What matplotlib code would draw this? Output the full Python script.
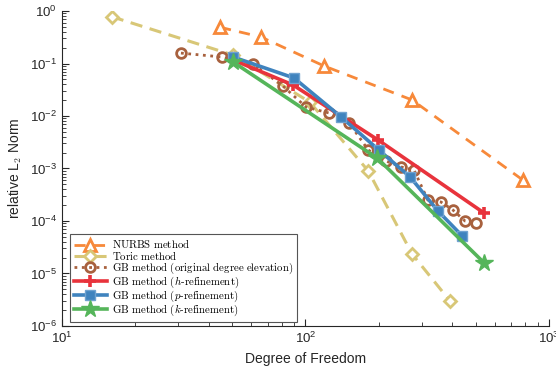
import numpy as np
import matplotlib
matplotlib.use("Agg")
from matplotlib import pyplot as plt

plt.rcParams['font.family'] = ['Liberation Sans', 'DejaVu Sans']
plt.rcParams['mathtext.fontset'] = 'cm'

# NURBS method
nurbs_dof = [44.6, 65.6, 119, 274, 782]
nurbs_err = [0.49, 0.32, 0.09, 0.0202, 6.0e-4]

# Toric method
toric_dof = [16, 50.4, 104, 181, 274, 392]
toric_err = [0.78, 0.145, 0.0185, 9.0e-4, 2.35e-5, 3.0e-6]

# GB method (original degree elevation)
orig_dof = [30.8, 45.4, 60.9, 80.8, 100.5, 125, 151, 181, 214, 247, 279, 318, 360, 403, 452, 501]
orig_err = [0.158, 0.133, 0.098, 0.0373, 0.0148, 0.0114, 0.0074, 0.00225, 0.00139,
            0.00107, 9.4e-4, 2.5e-4, 2.3e-4, 1.62e-4, 1.0e-4, 9.2e-5]

# GB method (h-refinement)
h_dof = [50.4, 88.9, 198.5, 541]
h_err = [0.117, 0.039, 0.0035, 1.42e-4]

# GB method (p-refinement)
p_dof = [50.4, 89.7, 140, 200, 269, 350, 440]
p_err = [0.133, 0.053, 0.0096, 0.00225, 6.9e-4, 1.55e-4, 5.2e-5]

# GB method (k-refinement)
k_dof = [50.4, 197, 541]
k_err = [0.107, 1.58e-3, 1.6e-5]

fig = plt.figure(figsize=(5.56, 3.72), dpi=100)
ax = fig.add_axes([0.1115, 0.1237, 0.8759, 0.8467])

ax.loglog(nurbs_dof, nurbs_err, '--', color='#F7893A', lw=2, marker='^', ms=8,
          mfc='white', mew=2, dashes=(4, 3),
          label=r'$\mathrm{NURBS\ method}$')
ax.loglog(toric_dof, toric_err, '--', color='#D8C777', lw=2.2, marker='D', ms=6,
          mfc='white', mew=2, dashes=(4, 2.5),
          label=r'$\mathrm{Toric\ method}$')
ax.loglog(orig_dof, orig_err, ':', color='#A8613E', lw=2, marker='o', ms=7,
          mfc='none', mew=2,
          label=r'$\mathrm{GB\ method\ (original\ degree\ elevation)}$')
ax.loglog(h_dof, h_err, '-', color='#E8333C', lw=2.6, marker='+', ms=9, mew=2.6,
          label=r'$\mathrm{GB\ method\ (}h\mathrm{\text{-}refinement)}$')
ax.loglog(p_dof, p_err, '-', color='#3F83BE', lw=2.6, marker='s', ms=7,
          mfc='#3F83BE', mec='#6FA2D0', mew=1,
          label=r'$\mathrm{GB\ method\ (}p\mathrm{\text{-}refinement)}$')
ax.loglog(k_dof, k_err, '-', color='#55B55A', lw=2.6, marker='*', ms=13,
          label=r'$\mathrm{GB\ method\ (}k\mathrm{\text{-}refinement)}$')

ax.set_xlim(10, 1000)
ax.set_ylim(1e-6, 1)
ax.spines['top'].set_visible(False)
ax.spines['right'].set_visible(False)
for s in ['left', 'bottom']:
    ax.spines[s].set_color('#262626')
    ax.spines[s].set_linewidth(0.8)
ax.tick_params(which='both', direction='in', colors='#262626', labelsize=9.5,
               labelcolor='#262626')
ax.tick_params(which='major', length=5)
ax.tick_params(which='minor', length=3)

ax.set_xlabel('Degree of Freedom', fontsize=10, color='#262626')
ax.set_ylabel(r'relative L$_2$ Norm', fontsize=10, color='#262626')

leg = ax.legend(loc='lower left', bbox_to_anchor=(0.016, 0.013), borderaxespad=0,
                fontsize=7.8, handlelength=3.1, labelspacing=-0.12, borderpad=0.35,
                handletextpad=0.45, fancybox=False, framealpha=1)
leg.get_frame().set_edgecolor('#555555')
leg.get_frame().set_linewidth(0.8)

plt.savefig('out.png', dpi=100)
